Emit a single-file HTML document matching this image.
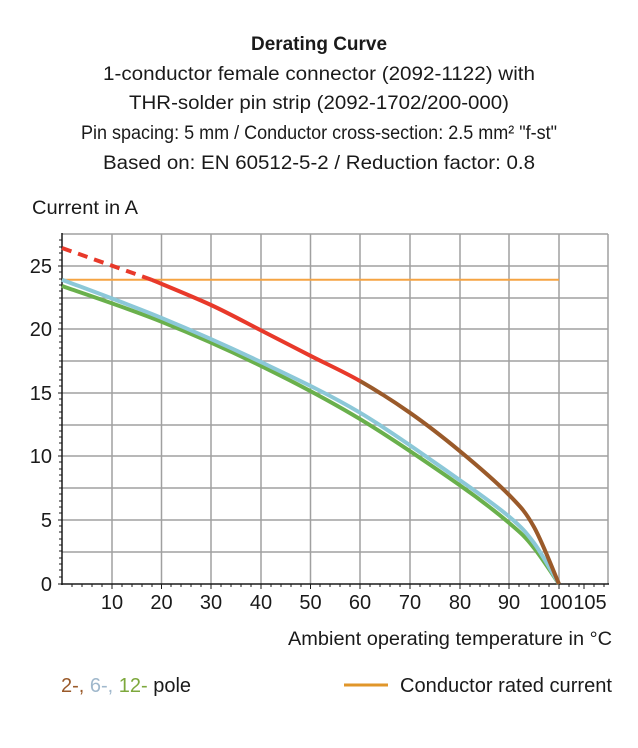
<!DOCTYPE html>
<html><head><meta charset="utf-8"><style>
html,body{margin:0;padding:0;background:#fff;}
svg{display:block;font-family:"Liberation Sans Narrow","Liberation Sans",sans-serif;}
</style></head><body>
<svg width="638" height="748" viewBox="0 0 638 748" xmlns="http://www.w3.org/2000/svg">
<g fill="#1a1a1a" text-anchor="middle" font-size="19">
<text x="319" y="50" font-weight="bold" textLength="136" lengthAdjust="spacingAndGlyphs">Derating Curve</text>
<text x="319" y="80" textLength="432" lengthAdjust="spacingAndGlyphs">1-conductor female connector (2092-1122) with</text>
<text x="319" y="109" textLength="380" lengthAdjust="spacingAndGlyphs">THR-solder pin strip (2092-1702/200-000)</text>
<text x="319" y="139" textLength="476" lengthAdjust="spacingAndGlyphs">Pin spacing: 5 mm / Conductor cross-section: 2.5 mm² "f-st"</text>
<text x="319" y="169" textLength="432" lengthAdjust="spacingAndGlyphs">Based on: EN 60512-5-2 / Reduction factor: 0.8</text>
</g>
<text x="32" y="214" font-size="19" fill="#1a1a1a" textLength="106" lengthAdjust="spacingAndGlyphs">Current in A</text>
<g stroke="#a0a0a0" stroke-width="1.5" fill="none">
<path d="M112 234V584M161.5 234V584M211 234V584M261 234V584M310.5 234V584M360 234V584M410 234V584M460 234V584M509 234V584M559 234V584M608 234V584"/>
<path d="M62 234H608M62 266H608M62 298H608M62 329H608M62 361H608M62 393H608M62 425H608M62 456H608M62 488H608M62 520H608M62 552H608"/>
</g>
<g stroke="#1a1a1a" stroke-width="1.5">
<path d="M62 233V585M61 584H609"/>
</g>
<g stroke="#1a1a1a" stroke-width="1">
<path d="M58 266H62M58 329H62M58 393H62M58 456H62M58 520H62M58 584H62"/>
<path d="M59 240H62M59 247H62M59 253H62M59 260H62M59 272H62M59 279H62M59 285H62M59 291H62M59 298H62M59 304H62M59 310H62M59 317H62M59 323H62M59 336H62M59 342H62M59 348H62M59 355H62M59 361H62M59 367H62M59 374H62M59 380H62M59 386H62M59 399H62M59 405H62M59 412H62M59 418H62M59 425H62M59 431H62M59 437H62M59 443H62M59 450H62M59 462H62M59 469H62M59 475H62M59 481H62M59 488H62M59 494H62M59 501H62M59 507H62M59 513H62M59 526H62M59 532H62M59 539H62M59 545H62M59 551H62M59 558H62M59 564H62M59 570H62M59 577H62"/>
<path d="M112 584V589M161.5 584V589M211 584V589M261 584V589M310.5 584V589M360 584V589M410 584V589M460 584V589M509 584V589M559 584V589M584 584V589"/>
<path d="M72 584V587M82 584V587M92 584V587M102 584V587M122 584V587M132 584V587M142 584V587M152 584V587M171 584V587M181 584V587M191 584V587M201 584V587M221 584V587M231 584V587M241 584V587M251 584V587M271 584V587M281 584V587M291 584V587M301 584V587M320 584V587M330 584V587M340 584V587M350 584V587M370 584V587M380 584V587M390 584V587M400 584V587M420 584V587M430 584V587M440 584V587M450 584V587M470 584V587M480 584V587M489 584V587M499 584V587M519 584V587M529 584V587M539 584V587M549 584V587M569 584V587M579 584V587M594 584V587M604 584V587"/>
</g>
<g font-size="20" fill="#1a1a1a" text-anchor="end">
<text x="52" y="273">25</text><text x="52" y="336">20</text><text x="52" y="400">15</text>
<text x="52" y="463">10</text><text x="52" y="527">5</text><text x="52" y="591">0</text>
</g>
<g font-size="20" fill="#1a1a1a" text-anchor="middle">
<text x="112" y="609">10</text><text x="161.5" y="609">20</text><text x="211" y="609">30</text><text x="261" y="609">40</text>
<text x="310.5" y="609">50</text><text x="360" y="609">60</text><text x="410" y="609">70</text><text x="460" y="609">80</text>
<text x="509" y="609">90</text><text x="556" y="609">100</text><text x="590" y="609">105</text>
</g>
<text x="612" y="645" font-size="19" fill="#1a1a1a" text-anchor="end" textLength="324" lengthAdjust="spacingAndGlyphs">Ambient operating temperature in °C</text>
<path d="M62 279.7H559" stroke="#f5a443" stroke-width="2" fill="none"/>
<path d="M62 286 C78.5 291.9 127.8 308.2 161 321.5 C194.2 334.8 227.8 349.6 261 365.9 C294.2 382.2 327.1 399.3 360.2 419.2 C393.3 439.1 434.75 467.8 459.6 485.1 C484.45 502.4 496.9 512.6 509.3 523.1 C521.7 533.6 525.7 537.2 534 548 C542.3 558.2 554.8 578 559 584" stroke="#6ab04c" stroke-width="4" fill="none"/>
<path d="M62 279.7 C78.5 286 127.8 304 161 317.7 C194.2 331.4 227.8 346.25 261 362.1 C294.2 377.95 327.1 393.15 360.2 412.8 C393.3 432.45 434.75 462.67 459.6 480 C484.45 497.3 496.9 506.3 509.3 516.8 C521.7 527.3 525.7 531.8 534 543 C542.3 554.2 554.8 577.2 559 584" stroke="#8cc8d8" stroke-width="4" fill="none"/>
<path d="M62 248 L151.5 279.7" stroke="#e8392a" stroke-width="4" stroke-dasharray="10,7" fill="none"/>
<path d="M151.5 279.7 C161.4 283.9 192.75 296.55 211 305 C229.25 313.45 244.4 321.9 261 330.4 C277.6 338.9 294 347.35 310.5 355.8 C327 364.25 343.6 371.6 360.2 381.1" stroke="#e8392a" stroke-width="4" fill="none"/>
<path d="M360.2 381.1 C376.8 390.6 393.4 401.2 410 412.8 C426.6 424.4 443 437.2 459.6 450.9 C476.15 464.6 496.9 482.5 509.3 495.2 C521.7 507.9 525.7 512.2 534 527 C542.3 541.8 554.8 574.5 559 584" stroke="#9a5a2a" stroke-width="4" fill="none"/>
<text x="61" y="692" font-size="20" textLength="130" lengthAdjust="spacingAndGlyphs"><tspan fill="#9a5a2a">2-,</tspan><tspan fill="#a0b8cc"> 6-,</tspan><tspan fill="#7da83c"> 12-</tspan><tspan fill="#1a1a1a"> pole</tspan></text>
<path d="M344 685H388" stroke="#e0962a" stroke-width="3"/>
<text x="612" y="692" font-size="20" fill="#1a1a1a" text-anchor="end" textLength="212" lengthAdjust="spacingAndGlyphs">Conductor rated current</text>
</svg>
</body></html>
